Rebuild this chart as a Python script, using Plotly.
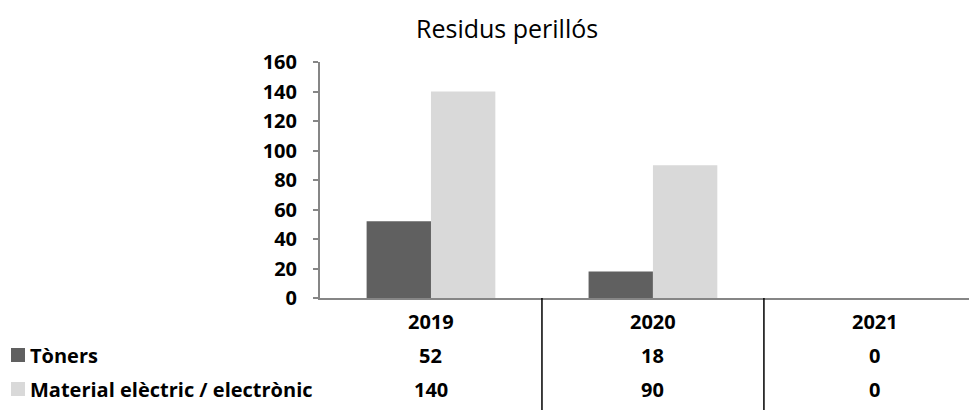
import plotly.graph_objects as go

years = ["2019", "2020", "2021"]
toners = [52, 18, 0]
material = [140, 90, 0]
series_names = ["Tòners", "Material elèctric / electrònic"]
y_ticks = [0, 20, 40, 60, 80, 100, 120, 140, 160]

DARK = "#606060"
LIGHT = "#d9d9d9"
AXIS = "#868686"
FONT = "Open Sans"

# page body has an 8px margin, so the figure is offset by (8, 8)
OFF = 8
W, H = 977 - OFF, 410 - OFF
ML, MR, MT, MB = 312, 0, 54, 112
PW = W - ML - MR
PH = H - MT - MB


def px_x(px):
    return (px - OFF - ML) / PW


def px_y(py):
    return (H - MB - (py - OFF)) / PH


fig = go.Figure()
fig.add_trace(go.Bar(x=years, y=toners, name=series_names[0],
                     marker=dict(color=DARK, line=dict(width=0))))
fig.add_trace(go.Bar(x=years, y=material, name=series_names[1],
                     marker=dict(color=LIGHT, line=dict(width=0))))

# data table below the plot
row_y = [321, 355, 389]
bold = dict(family=FONT, size=20, color="black", weight="bold")
annotations = []
for i, yr in enumerate(years):
    for text, py in zip([yr, toners[i], material[i]], row_y):
        annotations.append(dict(
            x=i, y=px_y(py), xref="x", yref="paper", text=str(text),
            showarrow=False, xanchor="center", yanchor="middle", font=bold,
        ))

shapes = []
for name, color, py in zip(series_names, [DARK, LIGHT], row_y[1:]):
    annotations.append(dict(
        x=px_x(28), y=px_y(py), xref="paper", yref="paper", text=name,
        showarrow=False, xanchor="left", yanchor="middle", font=bold,
    ))
    shapes.append(dict(
        type="rect", xref="paper", yref="paper",
        x0=px_x(11), x1=px_x(25), y0=px_y(py + 7), y1=px_y(py - 7),
        fillcolor=color, line=dict(width=0),
    ))

for xv in [0.5, 1.5]:
    shapes.append(dict(
        type="line", xref="x", yref="paper", x0=xv, x1=xv,
        y0=0, y1=px_y(410), line=dict(color="black", width=1.5),
    ))

# chart title
annotations.append(dict(
    x=px_x(507), y=px_y(OFF + 1), xref="paper", yref="paper", text="Residus perillós",
    showarrow=False, xanchor="center", yanchor="top",
    font=dict(family=FONT, size=25, color="black"),
))

fig.update_layout(
    width=W, height=H,
    margin=dict(l=ML, r=MR, t=MT, b=MB),
    paper_bgcolor="white", plot_bgcolor="white",
    barmode="group", bargap=0.42, bargroupgap=0,
    showlegend=False,
    annotations=annotations, shapes=shapes,
)
fig.update_xaxes(type="category", range=[-0.5, 2.46], showticklabels=False,
                 showline=True, linecolor=AXIS, linewidth=2, ticks="",
                 showgrid=False, zeroline=False)
fig.update_yaxes(range=[0, 160], tickvals=y_ticks, ticks="outside", ticklen=5,
                 tickcolor=AXIS, tickwidth=2, showline=True, linecolor=AXIS,
                 linewidth=2, showgrid=False, zeroline=False, ticklabelstandoff=12,
                 tickfont=bold)

fig.write_html("out.html")
